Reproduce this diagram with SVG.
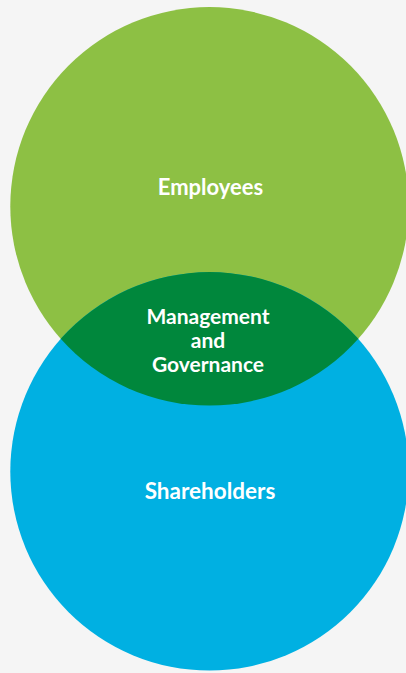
<svg xmlns="http://www.w3.org/2000/svg" width="406" height="673" viewBox="0 0 406 673">
<style>
.lbl{font-family:Lato,"Liberation Sans",sans-serif;font-weight:bold;fill:#ffffff;text-anchor:middle}
</style>
<rect width="406" height="673" fill="#f5f5f5"/>
<g id="employees">
<circle cx="209.5" cy="206.3" r="199.2" fill="#8dc044"/>
<text class="lbl" x="210.5" y="194.5" font-size="22">Employees</text>
</g>
<g id="shareholders">
<circle cx="209.5" cy="471.4" r="199.2" fill="#00b0e2"/>
<text class="lbl" x="210" y="498.5" font-size="22.5">Shareholders</text>
</g>
<g id="management">
<path d="M 60.7,338.85 A 199.2 199.2 0 0 1 358.3,338.85 A 199.2 199.2 0 0 1 60.7,338.85 Z" fill="#00873c"/>
<text class="lbl" font-size="21"><tspan x="208" y="323.5">Management</tspan><tspan x="208" y="348">and</tspan><tspan x="208" y="371.5">Governance</tspan></text>
</g>
<g id="connectors"/>
</svg>
